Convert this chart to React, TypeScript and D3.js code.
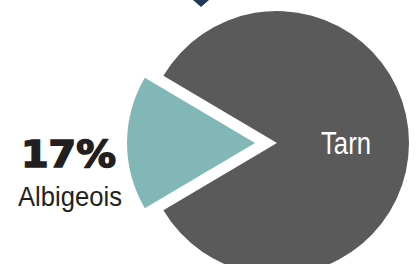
import React from "react";
import * as d3 from "d3";

const categories = ["Albigeois", "Tarn"];
const values = [17, 83];
const percentLabels = ["17%", ""];
const colors = ["#82b7b7", "#5a5a5a"];

const W = 419;
const H = 264;
const cx = 277;
const cy = 143;
const R = 132;

export default function App() {
  const total = d3.sum(values);
  const half = (Math.PI * values[0]) / total;
  const pie = d3
    .pie<number>()
    .sort(null)
    .startAngle(-Math.PI / 2 - half)
    .endAngle((3 * Math.PI) / 2 - half);
  const arcs = pie(values);
  const arcBig = d3.arc<d3.PieArcDatum<number>>().innerRadius(0).outerRadius(R);
  const arcSmall = d3.arc<d3.PieArcDatum<number>>().innerRadius(0).outerRadius(R - 4);

  const explode = 22;
  const a0 = arcs[0];
  const mid0 = (a0.startAngle + a0.endAngle) / 2;
  const ox = Math.sin(mid0) * explode;
  const oy = -Math.cos(mid0) * explode;

  return (
    <svg
      width={W}
      height={H}
      style={{ position: "absolute", left: 0, top: 0, display: "block" }}
    >
      <rect width={W} height={H} fill="#ffffff" />
      <path d="M193,0 L209,0 L201,7 Z" fill="#1f3a5a" />
      <g transform={`translate(${cx},${cy})`}>
        <path d={arcBig(arcs[1]) || ""} fill={colors[1]} />
        <g transform={`translate(${ox},${oy})`}>
          <path d={arcSmall(arcs[0]) || ""} fill={colors[0]} />
        </g>
        <text
          x={69}
          y={11}
          textAnchor="middle"
          fill="#ffffff"
          fontFamily="'Liberation Sans', Arial, sans-serif"
          fontSize={31}
          textLength={50}
          lengthAdjust="spacingAndGlyphs"
        >
          {categories[1]}
        </text>
      </g>
      <text
        x={21}
        y={167}
        fill="#231f20"
        stroke="#231f20"
        strokeWidth={1.6}
        fontFamily="'DejaVu Sans', sans-serif"
        fontWeight="bold"
        fontSize={37}
        textLength={95}
        lengthAdjust="spacingAndGlyphs"
      >
        {percentLabels[0]}
      </text>
      <text
        x={18}
        y={206}
        fill="#231f20"
        fontFamily="'Liberation Sans', Arial, sans-serif"
        fontSize={28}
        textLength={104}
        lengthAdjust="spacingAndGlyphs"
      >
        {categories[0]}
      </text>
    </svg>
  );
}
